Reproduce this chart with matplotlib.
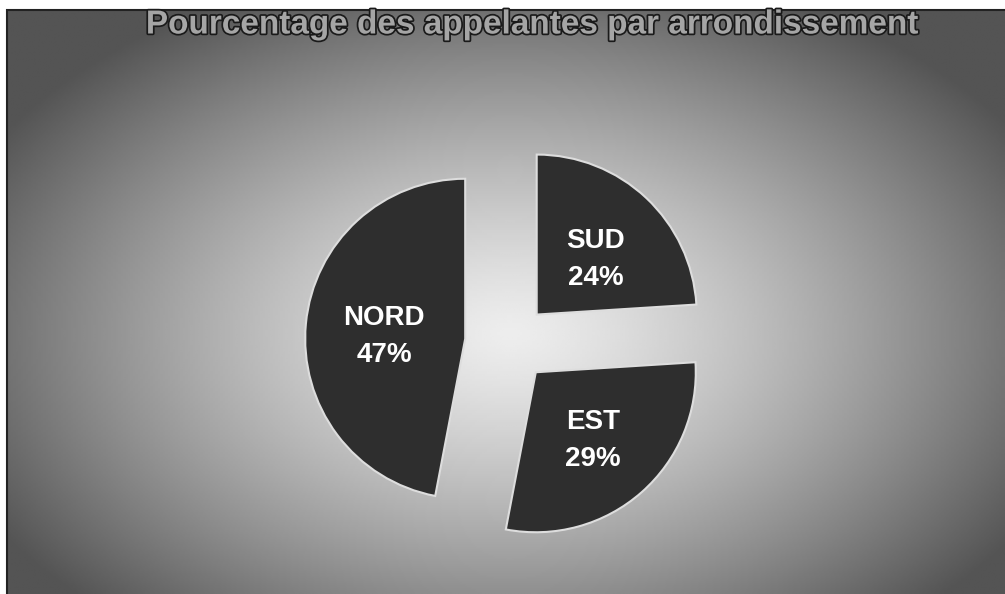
import numpy as np
import matplotlib
matplotlib.use("Agg")
import matplotlib.pyplot as plt
import matplotlib.patheffects as pe
from matplotlib.patches import Rectangle

# data
districts = ["SUD", "EST", "NORD"]
shares = [24, 29, 47]
title = "Pourcentage des appelantes par arrondissement"

W, H = 1005, 594
plt.rcParams['font.family'] = ['Liberation Sans', 'DejaVu Sans']

fig = plt.figure(figsize=(W / 100, H / 100), dpi=100, facecolor='white')
ax = fig.add_axes([0, 0, 1, 1])
ax.set_xlim(0, W)
ax.set_ylim(0, H)
ax.set_aspect('equal')
ax.axis('off')

# radial grey background (light in middle, dark at the edges)
left, top = 7, H - 10
xs = np.linspace(left, W, 400)
ys = np.linspace(0, top, 240)
X, Y = np.meshgrid(xs, ys)
r = np.sqrt(((X - 510) / 600) ** 2 + ((Y - 260) / 380) ** 2)
bg = 0.93 - 0.6 * np.clip(r, 0, 1) ** 1.3
ax.imshow(bg, extent=[left, W, 0, top], origin='lower', cmap='gray',
          vmin=0, vmax=1, interpolation='bilinear', zorder=0)
ax.add_patch(Rectangle((left, -2), W - left + 2, top + 2, fill=False,
                       edgecolor='#222222', linewidth=1.5, zorder=1))

wedges, texts = ax.pie(
    shares, labels=None, startangle=90, counterclock=False,
    center=(510, H - 343), radius=160, explode=[39, 39, 45],
    wedgeprops=dict(facecolor='#2e2e2e', edgecolor='#dddddd', linewidth=1.5),
    frame=True)[:2]

# labels inside each slice
for w, name, val in zip(wedges, districts, shares):
    th = np.deg2rad((w.theta1 + w.theta2) / 2)
    cx, cy = w.center
    d = 0.52 * w.r
    ax.text(cx + d * np.cos(th) + 2, cy + d * np.sin(th) - 6, f"{name}\n{val}%",
            ha='center', va='center', color='white', fontsize=20,
            fontweight='bold', linespacing=1.55, zorder=5)

ax.set_xlim(0, W)
ax.set_ylim(0, H)
ax.axis('off')

fig.text(533 / W, 1 - 25 / H, title, ha='center', va='center',
         fontsize=24, fontweight='bold', color='#a5a5a5',
         path_effects=[pe.Stroke(linewidth=2.5, foreground='#1a1a1a'), pe.Normal()])

fig.savefig("out.png", dpi=100, facecolor='white')
